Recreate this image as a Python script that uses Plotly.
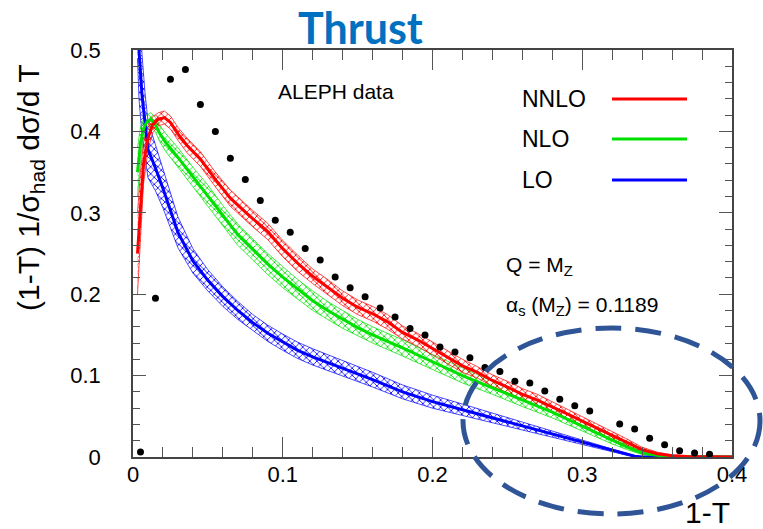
import plotly.graph_objects as go

# ---------------- data ----------------
aleph_x = [0.005, 0.015, 0.025, 0.035, 0.045, 0.055, 0.065, 0.075, 0.085, 0.095,
           0.105, 0.115, 0.125, 0.135, 0.145, 0.155, 0.165, 0.175, 0.185, 0.195,
           0.205, 0.215, 0.225, 0.235, 0.245, 0.255, 0.265, 0.275, 0.285, 0.295,
           0.305, 0.325, 0.335, 0.345, 0.355, 0.365, 0.375, 0.385]
aleph_y = [0.006, 0.195, 0.464, 0.476, 0.433, 0.400, 0.367, 0.341, 0.315, 0.291,
           0.276, 0.256, 0.242, 0.221, 0.208, 0.197, 0.183, 0.172, 0.158, 0.150,
           0.135, 0.129, 0.122, 0.110, 0.105, 0.093, 0.091, 0.081, 0.071, 0.063,
           0.0565, 0.0405, 0.0344, 0.023, 0.015, 0.0078, 0.0049, 0.0033]

nnlo_x = [0.003, 0.005, 0.007, 0.010, 0.013, 0.017, 0.021, 0.025, 0.030, 0.036,
          0.045, 0.055, 0.065, 0.078, 0.090, 0.100, 0.110, 0.120, 0.130, 0.140,
          0.150, 0.160, 0.170, 0.180, 0.190, 0.200, 0.210, 0.220, 0.230, 0.240,
          0.250, 0.260, 0.270, 0.280, 0.290, 0.300, 0.310, 0.320, 0.330, 0.340,
          0.350, 0.360, 0.370, 0.380, 0.400]
nnlo_y = [0.250, 0.310, 0.360, 0.392, 0.408, 0.415, 0.417, 0.411, 0.397, 0.383,
          0.366, 0.341, 0.318, 0.296, 0.277, 0.256, 0.238, 0.222, 0.209, 0.195,
          0.184, 0.176, 0.166, 0.153, 0.144, 0.133, 0.123, 0.112, 0.104, 0.094,
          0.086, 0.077, 0.070, 0.062, 0.053, 0.044, 0.035, 0.027, 0.018, 0.009,
          0.004, 0.0016, 0.0007, 0.0003, 0.0]
nnlo_err = [0.050, 0.040, 0.025, 0.015, 0.010, 0.008, 0.008, 0.008, 0.008, 0.009,
            0.009, 0.009, 0.010, 0.010, 0.010, 0.010, 0.010, 0.009, 0.009, 0.009,
            0.009, 0.009, 0.009, 0.008, 0.008, 0.008, 0.008, 0.008, 0.007, 0.007,
            0.007, 0.007, 0.007, 0.006, 0.006, 0.006, 0.005, 0.005, 0.004, 0.003,
            0.002, 0.001, 0.0005, 0.0002, 0.0]

nlo_x = [0.003, 0.005, 0.007, 0.009, 0.012, 0.015, 0.018, 0.022, 0.030, 0.040,
         0.050, 0.060, 0.070, 0.080, 0.090, 0.100, 0.110, 0.120, 0.130, 0.140,
         0.150, 0.160, 0.180, 0.200, 0.220, 0.240, 0.260, 0.280, 0.300, 0.310,
         0.320, 0.330, 0.340, 0.350, 0.360, 0.400]
nlo_y = [0.350, 0.385, 0.403, 0.411, 0.415, 0.408, 0.397, 0.386, 0.368, 0.344,
         0.321, 0.296, 0.273, 0.255, 0.237, 0.221, 0.206, 0.192, 0.180, 0.169,
         0.159, 0.150, 0.134, 0.117, 0.100, 0.085, 0.070, 0.055, 0.038, 0.029,
         0.020, 0.012, 0.005, 0.002, 0.0005, 0.0]
nlo_err = [0.030, 0.020, 0.012, 0.009, 0.008, 0.009, 0.010, 0.011, 0.012, 0.012,
           0.013, 0.013, 0.013, 0.013, 0.013, 0.013, 0.012, 0.012, 0.011, 0.011,
           0.010, 0.010, 0.010, 0.009, 0.009, 0.008, 0.008, 0.007, 0.006, 0.005,
           0.004, 0.003, 0.002, 0.001, 0.0003, 0.0]

lo_x = [0.003, 0.004, 0.006, 0.008, 0.010, 0.015, 0.020, 0.030, 0.040, 0.050,
        0.060, 0.070, 0.080, 0.090, 0.100, 0.110, 0.120, 0.140, 0.160, 0.180,
        0.200, 0.220, 0.240, 0.260, 0.280, 0.300, 0.310, 0.320, 0.330, 0.335,
        0.340, 0.400]
lo_y = [0.560, 0.500, 0.445, 0.408, 0.378, 0.355, 0.330, 0.276, 0.241, 0.217,
        0.197, 0.180, 0.165, 0.152, 0.141, 0.131, 0.123, 0.109, 0.095, 0.080,
        0.068, 0.058, 0.048, 0.038, 0.028, 0.018, 0.013, 0.008, 0.003, 0.001,
        0.0, 0.0]
lo_err = [0.070, 0.060, 0.050, 0.040, 0.035, 0.028, 0.024, 0.019, 0.015, 0.013,
          0.012, 0.011, 0.010, 0.010, 0.010, 0.010, 0.010, 0.0095, 0.009, 0.0085,
          0.008, 0.007, 0.006, 0.005, 0.004, 0.003, 0.0025, 0.002, 0.001, 0.0005,
          0.0, 0.0]

series = [
    ("LO", lo_x, lo_y, lo_err, "#0000ff"),
    ("NLO", nlo_x, nlo_y, nlo_err, "#00e000"),
    ("NNLO", nnlo_x, nnlo_y, nnlo_err, "#ff0000"),
]

x_ticks = [0, 0.1, 0.2, 0.3, 0.4]
x_ticklabels = ["0", "0.1", "0.2", "0.3", "0.4"]
y_ticks = [0, 0.1, 0.2, 0.3, 0.4, 0.5]
y_ticklabels = ["0", "0.1", "0.2", "0.3", "0.4", "0.5"]

FONT = "Liberation Sans, Arial, sans-serif"

fig = go.Figure()

# hatched bands
for name, xs, ys, err, col in series:
    lower = [y - e for y, e in zip(ys, err)]
    upper = [y + e for y, e in zip(ys, err)]
    fig.add_trace(go.Scatter(x=xs, y=lower, mode="lines",
                             line=dict(color=col, width=0.7),
                             showlegend=False, hoverinfo="skip"))
    fig.add_trace(go.Scatter(x=xs, y=upper, mode="lines",
                             line=dict(color=col, width=0.7),
                             fill="tonexty", fillcolor="rgba(255,255,255,0)",
                             fillpattern=dict(shape="x", fgcolor=col,
                                              bgcolor="rgba(255,255,255,0)",
                                              size=5, solidity=0.3,
                                              fgopacity=1),
                             showlegend=False, hoverinfo="skip"))

# central lines
for name, xs, ys, err, col in series:
    fig.add_trace(go.Scatter(x=xs, y=ys, mode="lines", name=name,
                             line=dict(color=col, width=3),
                             showlegend=False))

# data points
fig.add_trace(go.Scatter(x=aleph_x, y=aleph_y, mode="markers", name="ALEPH data",
                         marker=dict(color="black", size=7),
                         showlegend=False))

axis_common = dict(
    showline=True, linecolor="#444", linewidth=1.5, mirror="allticks",
    ticks="inside", tickcolor="#555", tickwidth=1,
    showgrid=False, zeroline=False,
    tickfont=dict(family=FONT, size=22, color="black"),
)

fig.update_xaxes(range=[0, 0.4], tickvals=x_ticks, ticktext=x_ticklabels,
                 ticklen=20, ticklabelstandoff=-3,
                 minor=dict(dtick=0.02, ticklen=10, ticks="inside",
                            tickcolor="#555", showgrid=False),
                 **axis_common)
fig.update_yaxes(range=[0, 0.5], tickvals=y_ticks, ticktext=y_ticklabels,
                 ticklen=13, ticklabelstandoff=26,
                 minor=dict(dtick=0.02, ticklen=7, ticks="inside",
                            tickcolor="#555", showgrid=False),
                 **axis_common)

L, R, T, B = 133, 31, 50, 72
W, H = 763, 529
pw, ph = W - L - R, H - T - B


def px(x):
    return (x - L) / pw


def py(y):
    return (H - B - y) / ph


annots = [
    dict(text="<b>Thrust</b>", x=px(360), y=py(27), font=dict(family="Lato, sans-serif", size=43, color="#0070C0"),
         xanchor="center", yanchor="middle"),
    dict(text="(1-T) 1/σ<sub>had</sub> dσ/d T", x=px(31), y=py(187), textangle=-90,
         font=dict(family=FONT, size=30, color="black"), xanchor="center", yanchor="middle"),
    dict(text="1-T", x=1.0, y=py(512), font=dict(family=FONT, size=30, color="black"),
         xanchor="right", yanchor="middle"),
    dict(text="ALEPH data", x=px(276), y=py(91), font=dict(family=FONT, size=21, color="black"),
         xanchor="left", yanchor="middle"),
    dict(text="NNLO", x=px(520), y=py(99), font=dict(family=FONT, size=23, color="black"),
         xanchor="left", yanchor="middle"),
    dict(text="NLO", x=px(520), y=py(139), font=dict(family=FONT, size=23, color="black"),
         xanchor="left", yanchor="middle"),
    dict(text="LO", x=px(520), y=py(180), font=dict(family=FONT, size=23, color="black"),
         xanchor="left", yanchor="middle"),
    dict(text="Q = M<sub>Z</sub>", x=px(504), y=py(266), font=dict(family=FONT, size=21, color="black"),
         xanchor="left", yanchor="middle"),
    dict(text="α<sub>s</sub> (M<sub>Z</sub>) = 0.1189", x=px(504), y=py(306),
         font=dict(family=FONT, size=21, color="black"), xanchor="left", yanchor="middle"),
]
for a in annots:
    fig.add_annotation(xref="paper", yref="paper", showarrow=False, **a)

legend_lines = [(99, "#ff0000"), (139, "#00e000"), (180, "#0000ff")]
for yy, col in legend_lines:
    fig.add_shape(type="line", xref="paper", yref="paper",
                  x0=px(612), x1=px(687), y0=py(yy), y1=py(yy),
                  line=dict(color=col, width=3))

# dashed highlight ellipse
fig.add_shape(type="circle", xref="paper", yref="paper",
              x0=px(463), x1=px(760), y0=py(514), y1=py(328),
              line=dict(color="#2F5597", width=5, dash="26px,14px"),
              layer="above")

fig.update_layout(
    width=W, height=H, autosize=False,
    margin=dict(l=L, r=R, t=T, b=B),
    paper_bgcolor="white", plot_bgcolor="white",
    showlegend=False,
)

fig.write_html("out.html")
